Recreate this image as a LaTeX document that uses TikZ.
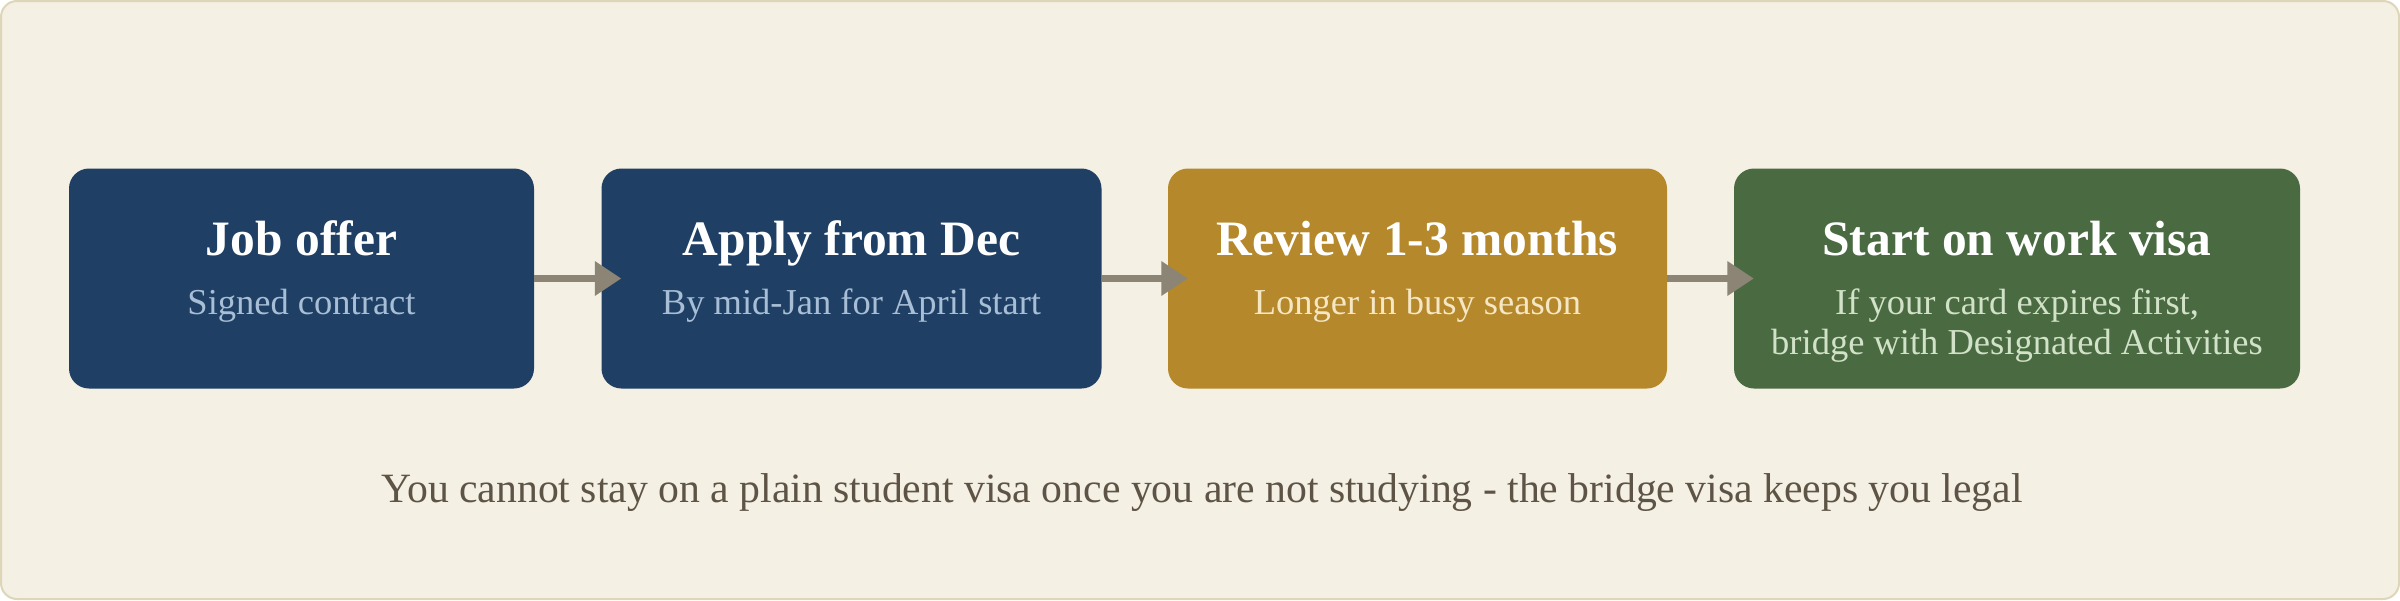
\documentclass[tikz,border=0pt]{standalone}
\usepackage{fontspec}
\setmainfont{Liberation Serif}
\usetikzlibrary{arrows.meta}
\definecolor{bgfill}{HTML}{F4F0E4}
\definecolor{bgline}{HTML}{DED6B8}
\definecolor{boxnavy}{HTML}{1F4064}
\definecolor{boxgold}{HTML}{B5892B}
\definecolor{boxgreen}{HTML}{4A6B42}
\definecolor{subnavy}{HTML}{A8BED6}
\definecolor{subgold}{HTML}{F5E6C4}
\definecolor{subgreen}{HTML}{D2E2C8}
\definecolor{arrowc}{HTML}{8C8475}
\definecolor{foottext}{HTML}{5E5446}
\tikzset{
  stepbox/.style={rounded corners=20pt, inner sep=0pt, draw=none, minimum height=220pt},
  ttl/.style={anchor=base, text=white, font=\fontsize{49.5}{49.5}\selectfont\bfseries, inner sep=0pt},
  sub/.style={anchor=base, font=\fontsize{36.5}{40}\selectfont, inner sep=0pt, align=center},
  conn/.style={draw=arrowc, line width=7pt, -{Triangle[length=26.5pt,width=33pt]}},
  foot/.style={anchor=base, text=foottext, font=\fontsize{41.7}{41.7}\selectfont, inner sep=0pt}
}
\begin{document}
\begin{tikzpicture}[x=1pt,y=-1pt]
\useasboundingbox (0,0) rectangle (2400,600);
\draw[bgline, fill=bgfill, line width=2pt, rounded corners=16pt] (1,1) rectangle (2399,599);
\node[stepbox, fill=boxnavy, minimum width=465pt] (b1) at (301.5,278.5) {};
\node[stepbox, fill=boxnavy, minimum width=500pt] (b2) at (851.5,278.5) {};
\node[stepbox, fill=boxgold, minimum width=499pt] (b3) at (1417.5,278.5) {};
\node[stepbox, fill=boxgreen, minimum width=566pt] (b4) at (2017,278.5) {};
\node[ttl] (t1) at (301.5,255) {Job offer};
\node[sub, text=subnavy] (s1) at (301.5,314) {Signed contract};
\node[ttl] (t2) at (851.5,255) {Apply from Dec};
\node[sub, text=subnavy] (s2) at (851.5,314) {By mid-Jan for April start};
\node[ttl] (t3) at (1417.5,255) {Review 1-3 months};
\node[sub, text=subgold] (s3) at (1417.5,314) {Longer in busy season};
\node[ttl] (t4) at (2017,255) {Start on work visa};
\node[sub, text=subgreen] (s4) at (2017,354) {If your card expires first,\\bridge with Designated Activities};
\draw[conn] (b1.east) -- ([xshift=20pt]b2.west);
\draw[conn] (b2.east) -- ([xshift=20pt]b3.west);
\draw[conn] (b3.east) -- ([xshift=20pt]b4.west);
\node[foot] (f) at (1202,502) {You cannot stay on a plain student visa once you are not studying - the bridge visa keeps you legal};
\end{tikzpicture}
\end{document}
